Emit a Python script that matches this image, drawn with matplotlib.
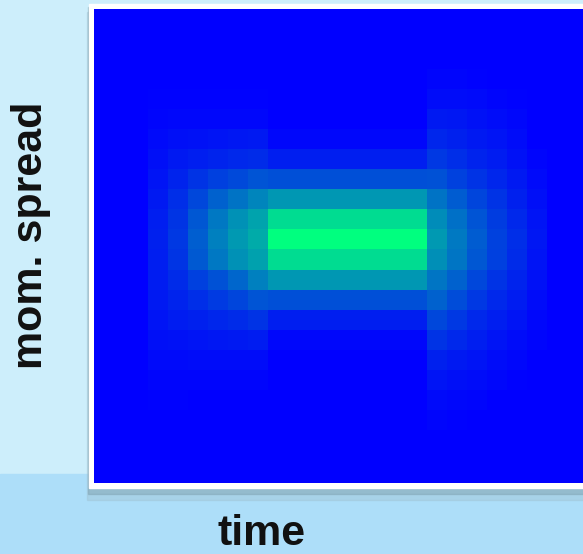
import numpy as np
import matplotlib.pyplot as plt
from matplotlib.patches import Rectangle

plt.rcParams['font.family'] = ['Liberation Sans', 'DejaVu Sans']

# intensity (0..1) per momentum row, 24 rows from top to bottom
# columns left of the focus, from the outside in
L0 = [0, 0, 0, 0, 0.01, 0.02, 0.04, 0.06, 0.08, 0.10, 0.12, 0.13, 0.12, 0.11, 0.10, 0.08, 0.06, 0.04, 0.02, 0.01, 0, 0, 0, 0]
L1 = [0, 0, 0, 0, 0.01, 0.03, 0.06, 0.10, 0.14, 0.18, 0.21, 0.22, 0.21, 0.17, 0.14, 0.11, 0.07, 0.04, 0.02, 0.01, 0, 0, 0, 0]
L2 = [0, 0, 0, 0, 0.01, 0.03, 0.07, 0.12, 0.20, 0.28, 0.34, 0.37, 0.35, 0.25, 0.18, 0.13, 0.08, 0.05, 0.02, 0, 0, 0, 0, 0]
L3 = [0, 0, 0, 0, 0.01, 0.03, 0.08, 0.14, 0.25, 0.38, 0.47, 0.50, 0.47, 0.32, 0.23, 0.15, 0.09, 0.05, 0.02, 0, 0, 0, 0, 0]
L4 = [0, 0, 0, 0, 0.01, 0.03, 0.09, 0.16, 0.29, 0.45, 0.57, 0.60, 0.57, 0.40, 0.27, 0.17, 0.10, 0.05, 0.02, 0, 0, 0, 0, 0]
L5 = [0, 0, 0, 0, 0.01, 0.03, 0.10, 0.17, 0.33, 0.52, 0.64, 0.67, 0.63, 0.50, 0.33, 0.20, 0.11, 0.05, 0.02, 0, 0, 0, 0, 0]

# focused part, same profile in each of its columns
center = [0, 0, 0, 0, 0, 0, 0.03, 0.12, 0.31, 0.59, 0.86, 1.00, 0.86, 0.59, 0.31, 0.12, 0.03, 0, 0, 0, 0, 0, 0, 0]
n_center = 8

# columns right of the focus, from the inside out
R0 = [0, 0, 0, 0.02, 0.05, 0.10, 0.15, 0.22, 0.32, 0.45, 0.55, 0.60, 0.56, 0.46, 0.38, 0.28, 0.20, 0.13, 0.08, 0.04, 0.02, 0, 0, 0]
R1 = [0, 0, 0, 0.02, 0.05, 0.09, 0.13, 0.18, 0.26, 0.36, 0.44, 0.48, 0.46, 0.38, 0.30, 0.22, 0.16, 0.10, 0.06, 0.03, 0.01, 0, 0, 0]
R2 = [0, 0, 0, 0.01, 0.04, 0.07, 0.10, 0.14, 0.20, 0.27, 0.33, 0.36, 0.34, 0.28, 0.22, 0.16, 0.12, 0.08, 0.05, 0.02, 0, 0, 0, 0]
R3 = [0, 0, 0, 0, 0.02, 0.05, 0.08, 0.11, 0.15, 0.20, 0.24, 0.26, 0.25, 0.20, 0.16, 0.12, 0.08, 0.05, 0.03, 0, 0, 0, 0, 0]
R4 = [0, 0, 0, 0, 0.01, 0.03, 0.05, 0.07, 0.10, 0.13, 0.16, 0.18, 0.17, 0.14, 0.11, 0.08, 0.05, 0.03, 0.01, 0, 0, 0, 0, 0]
R5 = [0, 0, 0, 0, 0, 0, 0, 0.02, 0.04, 0.06, 0.08, 0.09, 0.08, 0.07, 0.05, 0.03, 0.02, 0, 0, 0, 0, 0, 0, 0]

grid = np.column_stack([L0, L1, L2, L3, L4, L5] + [center] * n_center + [R0, R1, R2, R3, R4, R5])
n_rows, n_cols = grid.shape

fig = plt.figure(figsize=(5.83, 5.54), dpi=100)

# slide-like backdrop
fig.patches.append(Rectangle((0, 0), 1, 1, transform=fig.transFigure, color='#cdeefb', zorder=-10))
fig.patches.append(Rectangle((0, 0), 1, 0.145, transform=fig.transFigure, color='#addef9', zorder=-9))
fig.patches.append(Rectangle((0.150, 0.098), 0.9, 0.88, transform=fig.transFigure, color='#9cbccb', alpha=0.35, zorder=-8.5))
fig.patches.append(Rectangle((0.151, 0.108), 0.9, 0.88, transform=fig.transFigure, color='#7d9fae', alpha=0.45, zorder=-8))
fig.patches.append(Rectangle((0.1527, 0.1191), 0.9, 0.8737, transform=fig.transFigure, color='white', zorder=-7))

cmap = plt.get_cmap('winter')
ax = fig.add_axes([0.1612, 0.1282, 0.8388, 0.855])
ax.set_facecolor(cmap(0.0))
ax.imshow(grid, cmap=cmap, vmin=0, vmax=1, interpolation='nearest', aspect='auto',
          extent=(0, n_cols, n_rows, 0))
ax.set_xlim(-2.71, 21.86)
ax.set_ylim(23.65, -0.03)
ax.set_xticks([])
ax.set_yticks([])
for s in ax.spines.values():
    s.set_visible(False)

fig.text(0.053, 0.576, "mom. spread", rotation=90, ha='center', va='center',
         fontsize=31, fontweight='bold', color='#111111')
fig.text(0.448, 0.0162, "time", ha='center', va='baseline',
         fontsize=31, fontweight='bold', color='#111111')

fig.savefig("out.png", dpi=100)
